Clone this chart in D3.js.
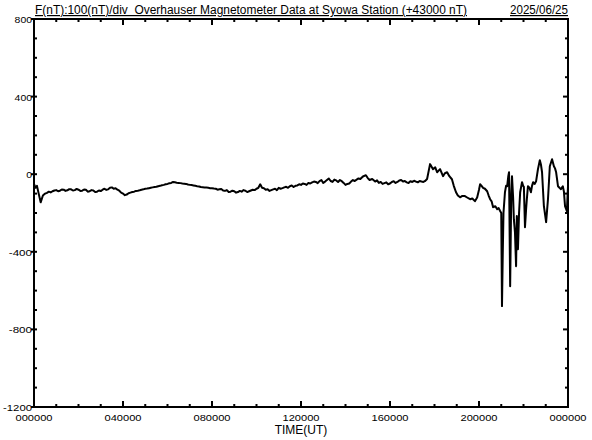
<!DOCTYPE html>
<html>
<head>
<meta charset="utf-8">
<script src="https://cdn.jsdelivr.net/npm/d3@7"></script>
<style>
  body { margin: 0; background: #fff; }
  svg { display: block; }
  text { font-family: "Liberation Sans", Arial, sans-serif; fill: #000; }
</style>
</head>
<body>
<div id="chart"></div>
<script>
// time of day in minutes (UT) and total field minus 43000 nT
const minutes = [
  0, 4, 8, 12, 18, 24, 30, 35, 40, 45, 50, 55, 60, 65, 70, 75, 80, 85, 90, 95,
  100, 105, 110, 115, 120, 125, 130, 135, 140, 145, 150, 155, 160, 165, 170, 175, 180, 185, 190, 195,
  200, 205, 210, 215, 220, 225, 230, 235, 240, 245, 250, 255, 260, 265, 270, 275, 280, 285, 290, 295,
  300, 305, 310, 315, 320, 325, 330, 335, 340, 345, 350, 355, 360, 365, 370, 375, 380, 385, 390, 395,
  400, 405, 410, 415, 420, 425, 430, 435, 440, 445, 450, 455, 460, 465, 470, 475, 480, 485, 490, 495,
  500, 505, 510, 515, 520, 525, 530, 535, 540, 545, 550, 555, 560, 565, 570, 575, 580, 585, 590, 595,
  600, 605, 610, 615, 620, 625, 630, 635, 640, 645, 650, 655, 660, 665, 670, 675, 680, 685, 690, 695,
  700, 705, 710, 715, 720, 725, 730, 735, 740, 745, 750, 755, 760, 765, 770, 775, 780, 785, 790, 795,
  800, 805, 810, 815, 820, 825, 830, 835, 840, 845, 850, 855, 860, 865, 870, 875, 880, 887, 895, 900,
  905, 912, 920, 925, 930, 935, 940, 945, 950, 955, 960, 965, 970, 975, 980, 985, 990, 995, 1000, 1005,
  1010, 1015, 1020, 1025, 1030, 1035, 1040, 1045, 1050, 1054, 1060, 1068, 1076, 1082, 1087, 1095, 1103, 1108, 1114, 1120,
  1127, 1132, 1138, 1143, 1149, 1155, 1162, 1168, 1176, 1182, 1189, 1195, 1200, 1203, 1207, 1211, 1216, 1222, 1226, 1230,
  1234, 1238, 1244, 1249, 1253, 1257, 1260, 1262, 1264, 1266, 1270, 1273, 1276, 1279, 1281, 1284, 1287, 1289, 1292, 1294,
  1297, 1300, 1302, 1305, 1308, 1311, 1316, 1319, 1321, 1324, 1327, 1329, 1332, 1336, 1340, 1343, 1346, 1350, 1354, 1359,
  1364, 1367, 1370, 1375, 1381, 1386, 1391, 1397, 1402, 1405, 1408, 1413, 1417, 1421, 1426, 1429, 1432, 1437, 1440
]
const fieldNT = [
  -50, -70, -60, -95, -145, -110, -100, -96, -90, -94, -88, -84, -82, -88, -85, -79, -80, -86, -83, -77,
  -78, -84, -82, -76, -80, -86, -85, -79, -80, -90, -88, -82, -84, -92, -90, -84, -87, -80, -75, -81,
  -78, -70, -68, -75, -72, -80, -85, -95, -100, -108, -105, -98, -95, -92, -90, -86, -85, -83, -80, -78,
  -75, -74, -72, -70, -68, -66, -65, -62, -60, -57, -55, -52, -50, -47, -45, -40, -42, -44, -45, -46,
  -48, -49, -50, -53, -55, -56, -58, -60, -62, -63, -66, -67, -68, -69, -70, -72, -72, -74, -75, -80,
  -78, -76, -84, -86, -82, -92, -90, -85, -88, -95, -92, -86, -90, -82, -85, -92, -88, -84, -80, -82,
  -75, -70, -52, -70, -72, -80, -78, -86, -82, -78, -75, -82, -70, -75, -72, -68, -65, -70, -62, -58,
  -66, -60, -58, -52, -55, -48, -50, -55, -45, -48, -42, -38, -40, -46, -36, -30, -45, -38, -30, -22,
  -35, -40, -28, -32, -40, -30, -36, -45, -55, -50, -48, -38, -30, -35, -28, -22, -25, -12, -5, -20,
  -30, -25, -38, -32, -45, -40, -50, -46, -42, -52, -48, -40, -36, -45, -40, -32, -30, -38, -35, -42,
  -45, -36, -40, -34, -38, -42, -35, -38, -40, -36, -25, 52, 26, 35, 10, 26, -10, 5, 10, -10,
  -26, -60, -93, -110, -119, -112, -113, -120, -129, -125, -139, -120, -80, -52, -60, -70, -75, -88, -110, -129,
  -140, -170, -165, -180, -175, -190, -200, -680, -420, -200, -93, -60, -62, -10, 10, -577, -100, -10, -120, -232,
  -300, -474, -216, -387, -200, -93, -41, -60, -65, -273, -180, -129, -62, -70, -93, -60, -41, -50, -36, 26,
  72, 50, 10, -165, -247, -129, 41, 77, 41, 30, 10, -62, -70, -77, -62, -90, -165, -190, -62
]
const hourTicks = d3.range(0, 1441, 60)
const labelTimes = [0, 240, 480, 720, 960, 1200, 1440]
const nTTicks = d3.range(-1200, 801, 100)
const nTLabels = [800, 400, 0, -400, -800, -1200]
const titleText = "F(nT):100(nT)/div  Overhauser Magnetometer Data at Syowa Station (+43000 nT)"
const dateText = "2025/06/25"
const xTitle = "TIME(UT)"

const width = 592
const height = 440
const margin = {top: 19, right: 24, bottom: 33, left: 34}

const svg = d3.select("#chart")
  .append("svg")
    .attr("width", width)
    .attr("height", height)

const x = d3.scaleLinear()
  .domain([0, 1440])
  .range([margin.left, width - margin.right])

const y = d3.scaleLinear()
  .domain([-1200, 800])
  .range([height - margin.bottom, margin.top])

const x0 = x.range()[0], x1 = x.range()[1]
const y0 = y.range()[0], y1 = y.range()[1]

// data line
const points = minutes.map((m, i) => [m, fieldNT[i]])
svg.append("path")
  .datum(points)
  .attr("fill", "none")
  .attr("stroke", "#000")
  .attr("stroke-width", 2)
  .attr("stroke-linejoin", "round")
  .attr("d", d3.line().x(d => x(d[0])).y(d => y(d[1])))

// ticks, all pointing into the plot
const isMajorT = m => m % 240 === 0
const isMajorF = v => v % 400 === 0

svg.append("g").selectAll("line")
  .data(hourTicks)
  .join("line")
    .attr("x1", d => x(d)).attr("x2", d => x(d))
    .attr("y1", y0).attr("y2", d => y0 - (isMajorT(d) ? 6 : 3))
    .attr("stroke", "#000").attr("stroke-width", 2)

svg.append("g").selectAll("line")
  .data(hourTicks)
  .join("line")
    .attr("x1", d => x(d)).attr("x2", d => x(d))
    .attr("y1", y1).attr("y2", d => y1 + (isMajorT(d) ? 6 : 3))
    .attr("stroke", "#000").attr("stroke-width", 2)

svg.append("g").selectAll("line")
  .data(nTTicks)
  .join("line")
    .attr("x1", d => isMajorF(d) ? x0 - 3 : x0).attr("x2", d => x0 + 3)
    .attr("y1", d => y(d)).attr("y2", d => y(d))
    .attr("stroke", "#000").attr("stroke-width", 2)

svg.append("g").selectAll("line")
  .data(nTTicks)
  .join("line")
    .attr("x1", x1).attr("x2", d => x1 - (isMajorF(d) ? 5 : 3))
    .attr("y1", d => y(d)).attr("y2", d => y(d))
    .attr("stroke", "#000").attr("stroke-width", 2)

// frame
svg.append("rect")
  .attr("x", x0).attr("y", y1)
  .attr("width", x1 - x0).attr("height", y0 - y1)
  .attr("fill", "none")
  .attr("stroke", "#000")
  .attr("stroke-width", 2)

// tick labels
const fmtTime = m => d3.format("02d")((m / 60) % 24) + "0000"

svg.append("g").selectAll("text")
  .data(labelTimes)
  .join("text")
    .attr("x", d => x(d))
    .attr("y", y0 + 14)
    .attr("text-anchor", "middle")
    .attr("font-size", 9)
    .attr("textLength", 37)
    .attr("lengthAdjust", "spacingAndGlyphs")
    .text(fmtTime)

svg.append("g").selectAll("text")
  .data(nTLabels)
  .join("text")
    .attr("x", x0 - 2)
    .attr("y", d => y(d) + 4)
    .attr("text-anchor", "end")
    .attr("font-size", 9)
    .attr("textLength", d => String(d).length * 5.8)
    .attr("lengthAdjust", "spacingAndGlyphs")
    .text(d => d)

// titles
svg.append("text")
  .attr("x", 35)
  .attr("y", 14)
  .attr("font-size", 12)
  .attr("textLength", 432)
  .attr("lengthAdjust", "spacingAndGlyphs")
  .style("white-space", "pre")
  .style("text-decoration", "underline")
  .text(titleText)

svg.append("text")
  .attr("x", x1)
  .attr("y", 14)
  .attr("text-anchor", "end")
  .attr("font-size", 12)
  .attr("textLength", 58)
  .attr("lengthAdjust", "spacingAndGlyphs")
  .style("text-decoration", "underline")
  .text(dateText)

svg.append("text")
  .attr("x", (x0 + x1) / 2)
  .attr("y", y0 + 27)
  .attr("text-anchor", "middle")
  .attr("font-size", 12)
  .text(xTitle)
</script>
</body>
</html>
